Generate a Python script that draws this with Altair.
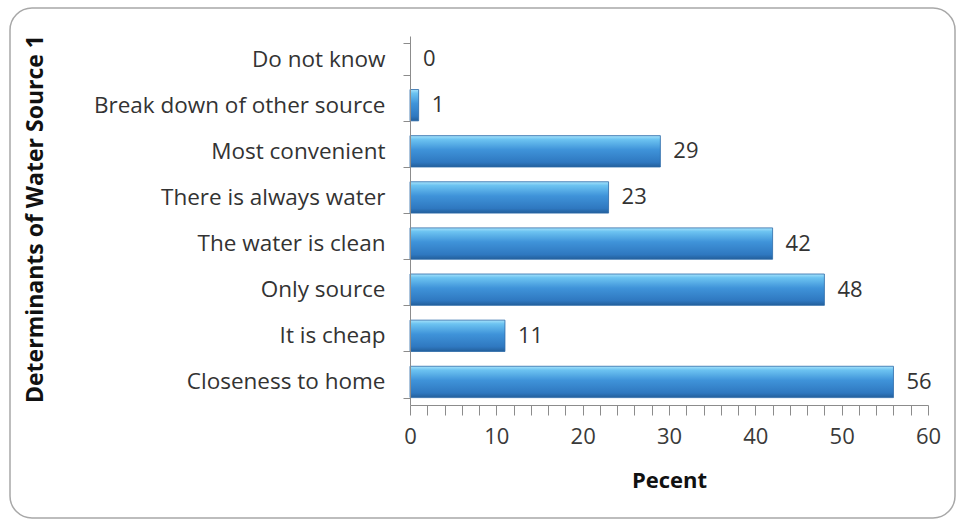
import altair as alt
import pandas as pd

# Reasons for choosing the main water source (percent of respondents)
categories = [
    "Do not know",
    "Break down of other source",
    "Most convenient",
    "There is always water",
    "The water is clean",
    "Only source",
    "It is cheap",
    "Closeness to home",
]
percent = [0, 1, 29, 23, 42, 48, 11, 56]
x_ticks = list(range(0, 61, 2))

df = pd.DataFrame({"reason": categories, "pct": percent})

FONT = "Open Sans"
W, H = 518, 369

bar_fill = alt.Gradient(
    gradient="linear",
    x1=0, x2=0, y1=0, y2=1,
    stops=[
        alt.GradientStop(offset=0.0, color="#a6e2fb"),
        alt.GradientStop(offset=0.12, color="#6cc3f1"),
        alt.GradientStop(offset=0.45, color="#3f93d9"),
        alt.GradientStop(offset=0.85, color="#2f78c0"),
        alt.GradientStop(offset=1.0, color="#235f9b"),
    ],
)

y_enc = alt.Y(
    "reason:N",
    sort=categories,
    scale=alt.Scale(paddingInner=0.32, paddingOuter=0.16),
    axis=alt.Axis(
        title="Determinants of Water Source 1",
        titleFont=FONT,
        titleFontSize=23,
        titleFontWeight="bold",
        titleColor="#111111",
        titleAngle=270,
        titleX=-375,
        titleY=H / 2 - 2,
        titleAlign="center",
        titleBaseline="middle",
        labelFont=FONT,
        labelFontSize=22.5,
        labelColor="#333333",
        labelPadding=18,
        labelLimit=400,
        tickBand="extent",
        tickSize=7,
        tickColor="#8c8c8c",
        domainColor="#8c8c8c",
        zindex=1,
    ),
)

x_enc = alt.X(
    "pct:Q",
    scale=alt.Scale(domain=[0, 60], nice=False),
    axis=alt.Axis(
        title="Pecent",
        titleFont=FONT,
        titleFontSize=22,
        titleFontWeight="bold",
        titleColor="#111111",
        titleY=75,
        titleBaseline="middle",
        values=x_ticks,
        tickCount=len(x_ticks),
        labelExpr="datum.value % 10 == 0 ? datum.label : ''",
        labelOverlap=False,
        labelFlush=False,
        labelFont=FONT,
        labelFontSize=22,
        labelColor="#3a3a3a",
        labelPadding=11,
        tickSize=10,
        tickColor="#8c8c8c",
        domainColor="#8c8c8c",
        grid=False,
        zindex=1,
    ),
)

frame = alt.Chart(pd.DataFrame({"k": [0]})).mark_rect(
    fill="white",
    stroke="#a8a8a8",
    strokeWidth=1.5,
    cornerRadius=22,
).encode(
    x=alt.value(-400),
    x2=alt.value(545),
    y=alt.value(-28),
    y2=alt.value(482),
)

bars = alt.Chart(df).mark_bar(
    fill=bar_fill,
    stroke="#2b6aa8",
    strokeWidth=0.8,
).encode(
    x=x_enc,
    y=y_enc,
    strokeOpacity=alt.condition("datum.pct > 0", alt.value(1), alt.value(0)),
)

labels = alt.Chart(df).mark_text(
    align="left",
    baseline="middle",
    dx=13,
    font=FONT,
    fontSize=22,
    color="#333333",
).encode(
    x=alt.X("pct:Q"),
    y=alt.Y("reason:N", sort=categories),
    text=alt.Text("pct:Q"),
)

chart = (
    alt.layer(frame, bars, labels)
    .properties(
        width=W,
        height=H,
        autosize=alt.AutoSizeParams(type="none"),
        padding={"left": 410, "top": 36, "right": 32, "bottom": 119},
        background="white",
    )
    .configure_view(stroke=None)
)

chart.save("out.html", embed_options={"renderer": "svg", "actions": False})
